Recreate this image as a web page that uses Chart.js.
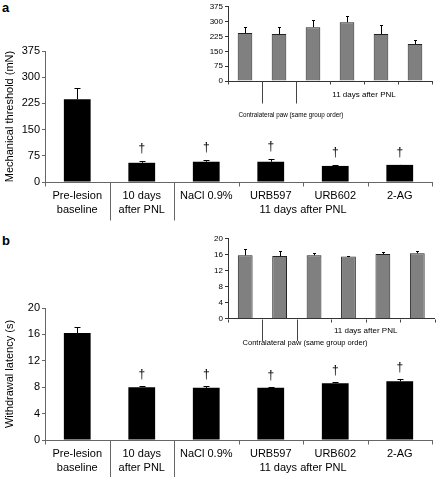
<!DOCTYPE html>
<html><head><meta charset="utf-8">
<script src="https://cdn.jsdelivr.net/npm/chart.js@4.4.1/dist/chart.umd.min.js"></script>
<style>
html,body{margin:0;padding:0;background:#fff;}
body{width:436px;height:477px;position:relative;overflow:hidden;font-family:"Liberation Sans",Arial,sans-serif;}
canvas{position:absolute;}
.lbl{position:absolute;font-weight:bold;font-size:13px;line-height:13px;color:#000;}
</style></head>
<body>
<div class="lbl" style="left:2px;top:1px">a</div>
<div class="lbl" style="left:2px;top:234px">b</div>
<canvas id="mainA" width="436" height="240" style="left:0;top:0"></canvas>
<canvas id="insetA" width="246" height="125" style="left:190px;top:0"></canvas>
<canvas id="mainB" width="436" height="237" style="left:0;top:240px"></canvas>
<canvas id="insetB" width="246" height="125" style="left:190px;top:228px"></canvas>
<script>
// ---- data ----
const categories = [['Pre-lesion','baseline'],['10 days','after PNL'],['NaCl 0.9%'],['URB597'],['URB602'],['2-AG']];
const groupLabel = '11 days after PNL';
const insetNote = 'Contralateral paw (same group order)';
const significant = [false,true,true,true,true,true];

const mechTitle = 'Mechanical threshold (mN)';
const mechTicksStep = 75, mechMax = 375;
const mechMain = [237, 55, 58, 58, 46, 49];
const mechMainErr = [33, 6, 6, 7, 3, 0.5];
const mechInset = [242, 237, 272, 297, 237, 187];
const mechInsetErr = [31, 35, 36, 34, 45, 20];

const latTitle = 'Withdrawal latency (s)';
const latTicksStep = 4, latMax = 20;
const latMain = [16.2, 8.0, 7.9, 7.9, 8.6, 8.9];
const latMainErr = [0.9, 0.15, 0.35, 0.2, 0.2, 0.4];
const latInset = [15.8, 15.6, 15.8, 15.5, 16.1, 16.3];
const latInsetErr = [1.7, 1.3, 0.5, 0.15, 0.6, 0.7];

const FAM = '"Liberation Sans", Arial, sans-serif';

// ---- plugins ----
const errorBars = {
  id: 'errorBars',
  afterDatasetsDraw(chart, args, o) {
    const meta = chart.getDatasetMeta(0), ys = chart.scales.y, c = chart.ctx;
    const vals = chart.data.datasets[0].data;
    c.save();
    c.strokeStyle = '#000'; c.lineWidth = 1;
    meta.data.forEach((bar, i) => {
      const yt = Math.round(ys.getPixelForValue(vals[i] + o.errors[i])) + 0.5;
      const x = Math.round(bar.x) + 0.5;
      c.beginPath();
      c.moveTo(x, bar.y); c.lineTo(x, yt);
      c.moveTo(x - o.cap / 2, yt); c.lineTo(x + o.cap / 2, yt);
      c.stroke();
      if (o.sig && o.sig[i]) {
        c.fillStyle = '#000';
        c.font = '12px ' + FAM;
        c.textAlign = 'center'; c.textBaseline = 'middle';
        c.fillText('\u2020', bar.x, yt - o.daggerGap);
      }
    });
    c.restore();
  }
};

const catAxis = {
  id: 'catAxis',
  afterDraw(chart, args, o) {
    const xs = chart.scales.x, c = chart.ctx;
    const y0 = Math.round(chart.chartArea.bottom) + 0.5;
    const n = chart.data.labels.length;
    const w = (xs.right - xs.left) / n;
    c.save();
    c.strokeStyle = o.lineColor; c.lineWidth = 1;
    c.beginPath();
    for (let i = 1; i <= n; i++) {
      const x = Math.round(xs.left + i * w) + 0.5;
      const len = (i <= 2) ? o.sepLen : o.tickLen;
      c.moveTo(x, y0); c.lineTo(x, y0 + len);
    }
    c.moveTo(Math.round(xs.left) + 0.5, y0); c.lineTo(Math.round(xs.left) + 0.5, y0 + o.tickLen);
    c.stroke();
    c.fillStyle = '#000';
    c.font = o.fontSize + 'px ' + FAM;
    c.textAlign = 'center'; c.textBaseline = 'middle';
    if (o.showCats) {
      chart.data.labels.forEach((lab, i) => {
        const x = xs.getPixelForValue(i);
        lab.forEach((line, k) => c.fillText(line, x, y0 + o.lineY[k]));
      });
    }
    const gx = (xs.getPixelForValue(2) + xs.getPixelForValue(5)) / 2;
    c.fillText(o.groupText, gx, y0 + o.groupY);
    if (o.note) {
      c.font = o.noteFont + 'px ' + FAM;
      c.fillText(o.note, xs.left + o.noteFrac * w, y0 + o.noteY);
    }
    c.restore();
  }
};

function makeChart(id, cfg) {
  return new Chart(document.getElementById(id), {
    type: 'bar',
    data: {
      labels: categories,
      datasets: [{
        data: cfg.values,
        backgroundColor: cfg.fill,
        borderColor: cfg.border,
        borderWidth: cfg.bw,
        barPercentage: cfg.barPct,
        categoryPercentage: 1
      }]
    },
    options: {
      responsive: false, animation: false, devicePixelRatio: 1,
      layout: { padding: { top: cfg.padTop, right: cfg.padRight, left: 0, bottom: 0 } },
      plugins: {
        legend: { display: false }, tooltip: { enabled: false },
        errorBars: { errors: cfg.errors, cap: cfg.cap, sig: cfg.sig, daggerGap: cfg.daggerGap },
        catAxis: cfg.axis
      },
      scales: {
        x: {
          grid: { display: false },
          ticks: { display: false },
          border: { display: true, color: cfg.axisColor },
          afterFit: s => { s.height = cfg.xHeight; }
        },
        y: {
          min: 0, max: cfg.yMax,
          ticks: { stepSize: cfg.step, color: '#000', padding: cfg.tickPad, font: { size: cfg.tickFont, family: FAM } },
          grid: { drawOnChartArea: false, tickLength: cfg.tickLen, color: cfg.axisColor },
          border: { color: cfg.axisColor },
          title: cfg.title ? { display: true, text: cfg.title, color: '#000', padding: { top: 3, bottom: 0 }, font: { size: 11, family: FAM } } : { display: false },
          afterFit: s => { s.width = cfg.yWidth; }
        }
      }
    },
    plugins: [errorBars, catAxis]
  });
}

const mainAxis = (sepLen) => ({ lineColor: '#666', sepLen: sepLen, tickLen: 4, fontSize: 11, showCats: true, lineY: [13, 27], groupText: groupLabel, groupY: 27 });
const insetAxis = (groupY, sepLen, noteY, noteFont, noteFrac) => ({ lineColor: '#444', sepLen: sepLen, tickLen: 3, fontSize: 8, showCats: false, groupText: groupLabel, groupY: groupY, note: insetNote, noteY: noteY, noteFont: noteFont, noteFrac: noteFrac });

makeChart('mainA', {
  values: mechMain, errors: mechMainErr, sig: significant, fill: '#000', border: '#000', bw: 0, barPct: 0.415,
  cap: 6, daggerGap: 13, padTop: 51, padRight: 4, xHeight: 58, yWidth: 45, yMax: mechMax, step: mechTicksStep,
  tickFont: 11, tickPad: 2, tickLen: 3, axisColor: '#666', title: mechTitle, axis: mainAxis(38)
});
makeChart('insetA', {
  values: mechInset, errors: mechInsetErr, sig: null, fill: '#808080', border: '#222', bw: 1, barPct: 0.43,
  cap: 3, daggerGap: 0, padTop: 5.5, padRight: 4, xHeight: 44, yWidth: 38, yMax: mechMax, step: mechTicksStep,
  tickFont: 8, tickPad: 2, tickLen: 3, axisColor: '#333', title: null, axis: insetAxis(13, 22, 34, 6.3, 1.85)
});
makeChart('mainB', {
  values: latMain, errors: latMainErr, sig: significant, fill: '#000', border: '#000', bw: 0, barPct: 0.415,
  cap: 6, daggerGap: 12, padTop: 68, padRight: 4, xHeight: 37, yWidth: 45, yMax: latMax, step: latTicksStep,
  tickFont: 11, tickPad: 2, tickLen: 3, axisColor: '#666', title: latTitle, axis: mainAxis(40)
});
makeChart('insetB', {
  values: latInset, errors: latInsetErr, sig: null, fill: '#808080', border: '#222', bw: 1, barPct: 0.43,
  cap: 3, daggerGap: 0, padTop: 10.5, padRight: 1.5, xHeight: 34.5, yWidth: 38, yMax: latMax, step: latTicksStep,
  tickFont: 8, tickPad: 2, tickLen: 3, axisColor: '#333', title: null, axis: insetAxis(11, 21.5, 23, 7.5, 2.24)
});
</script>
</body></html>
